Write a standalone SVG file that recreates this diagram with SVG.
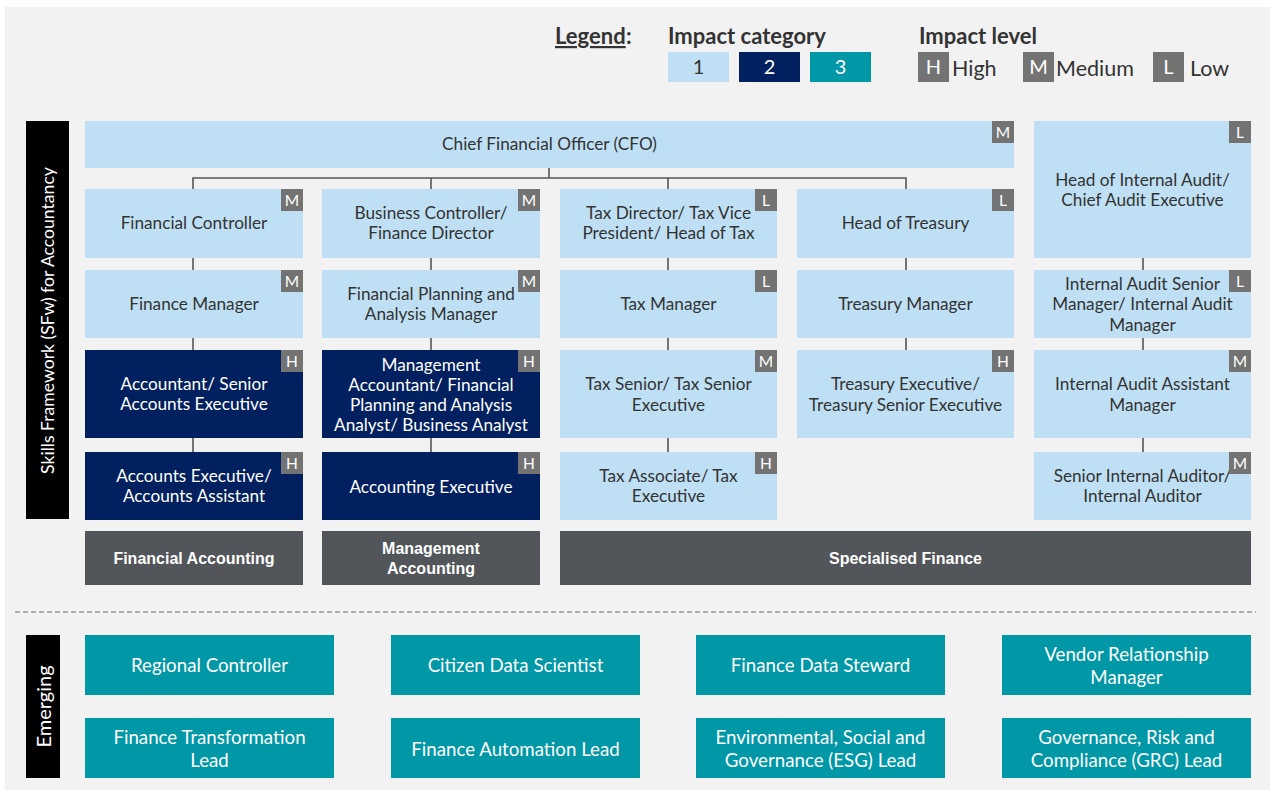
<svg xmlns="http://www.w3.org/2000/svg" width="1274" height="793" viewBox="0 0 1274 793">
<style>
.l1{fill:#bfe0f4}
.l2{fill:#002060}
.l3{fill:#0097a7}
.cat{fill:#525559}
.badge{fill:#737373}
.bt{font-family:Lato,"Open Sans",sans-serif;font-size:15.5px;fill:#fff;text-anchor:middle}
.t{font-family:Lato,"Open Sans",sans-serif;font-size:17.2px;fill:#333;text-anchor:middle}
.tw{font-family:Lato,"Open Sans",sans-serif;font-size:17.2px;fill:#fff;text-anchor:middle}
.te{font-family:Lato,"Open Sans",sans-serif;font-size:18.7px;fill:#fff;text-anchor:middle}
.ct{font-family:"Liberation Sans",Arial,sans-serif;font-size:16px;font-weight:bold;fill:#fff;text-anchor:middle}
.side{font-family:Lato,"Open Sans",sans-serif;font-size:17.6px;fill:#fff;text-anchor:middle}
.lh{font-family:Lato,"Open Sans",sans-serif;font-size:22px;font-weight:bold;fill:#333}
.lt{font-family:Lato,"Open Sans",sans-serif;font-size:21.5px;fill:#333}
.ln{font-family:Lato,"Open Sans",sans-serif;font-size:20px;text-anchor:middle}
.conn{stroke:#555;stroke-width:1.6;fill:none}
</style>
<rect x="0" y="0" width="1274" height="793" fill="#fff"/>
<rect x="5" y="7" width="1265" height="783" fill="#f2f2f2"/>

<g id="legend">
<text class="lh" x="555" y="44" text-decoration="underline">Legend</text><text class="lh" x="626" y="44">:</text>
<text class="lh" x="668" y="44">Impact category</text>
<rect class="l1" x="668" y="52" width="61" height="30"/><text class="ln" x="698.5" y="74" fill="#333">1</text>
<rect class="l2" x="739" y="52" width="61" height="30"/><text class="ln" x="769.5" y="74" fill="#fff">2</text>
<rect class="l3" x="810" y="52" width="61" height="30"/><text class="ln" x="840.5" y="74" fill="#fff">3</text>
<text class="lh" x="919" y="44">Impact level</text>
<rect class="badge" x="918" y="52" width="31" height="30"/><text class="ln" x="933.5" y="74" fill="#fff">H</text>
<text class="lt" x="952" y="76">High</text>
<rect class="badge" x="1023" y="52" width="31" height="30"/><text class="ln" x="1038.5" y="74" fill="#fff">M</text>
<text class="lt" x="1056" y="76">Medium</text>
<rect class="badge" x="1153" y="52" width="31" height="30"/><text class="ln" x="1168.5" y="74" fill="#fff">L</text>
<text class="lt" x="1190" y="76">Low</text>
</g>

<g id="sidebar-sfw">
<rect x="26" y="121" width="43" height="398" fill="#000"/>
<text class="side" transform="translate(54,320.5) rotate(-90)">Skills Framework (SFw) for Accountancy</text>
</g>

<g id="connectors">
<path class="conn" d="M549 168V178M193 189V178H906V189M431 178V189M668 178V189"/>
<path class="conn" d="M193 258V270M193 338V350M193 438V452"/>
<path class="conn" d="M431 258V270M431 338V350M431 438V452"/>
<path class="conn" d="M668 258V270M668 338V350M668 438V452"/>
<path class="conn" d="M906 258V270M906 338V350"/>
<path class="conn" d="M1143 258V270M1143 338V350M1143 438V452"/>
</g>

<g id="cfo">
<rect class="l1" x="85" y="121" width="929" height="47"/>
<text class="t" x="549.5" y="150">Chief Financial Officer (CFO)</text>
<rect class="badge" x="992" y="121" width="22" height="22"/><text class="bt" x="1003" y="138">M</text>
</g>

<g id="financial-controller">
<rect class="l1" x="85" y="189" width="218" height="69"/>
<text class="t" x="194" y="229">Financial Controller</text>
<rect class="badge" x="281" y="189" width="22" height="22"/><text class="bt" x="292" y="206">M</text>
</g>
<g id="business-controller">
<rect class="l1" x="322" y="189" width="218" height="69"/>
<text class="t" x="431" y="219">Business Controller/</text>
<text class="t" x="431" y="239">Finance Director</text>
<rect class="badge" x="518" y="189" width="22" height="22"/><text class="bt" x="529" y="206">M</text>
</g>
<g id="tax-director">
<rect class="l1" x="560" y="189" width="217" height="69"/>
<text class="t" x="668.5" y="219">Tax Director/ Tax Vice</text>
<text class="t" x="668.5" y="239">President/ Head of Tax</text>
<rect class="badge" x="755" y="189" width="22" height="22"/><text class="bt" x="766" y="206">L</text>
</g>
<g id="head-of-treasury">
<rect class="l1" x="797" y="189" width="217" height="69"/>
<text class="t" x="905.5" y="229">Head of Treasury</text>
<rect class="badge" x="992" y="189" width="22" height="22"/><text class="bt" x="1003" y="206">L</text>
</g>
<g id="head-of-internal-audit">
<rect class="l1" x="1034" y="121" width="217" height="137"/>
<text class="t" x="1142.5" y="186">Head of Internal Audit/</text>
<text class="t" x="1142.5" y="206">Chief Audit Executive</text>
<rect class="badge" x="1229" y="121" width="22" height="22"/><text class="bt" x="1240" y="138">L</text>
</g>

<g id="finance-manager">
<rect class="l1" x="85" y="270" width="218" height="68"/>
<text class="t" x="194" y="310">Finance Manager</text>
<rect class="badge" x="281" y="270" width="22" height="22"/><text class="bt" x="292" y="287">M</text>
</g>
<g id="fpa-manager">
<rect class="l1" x="322" y="270" width="218" height="68"/>
<text class="t" x="431" y="300">Financial Planning and</text>
<text class="t" x="431" y="320">Analysis Manager</text>
<rect class="badge" x="518" y="270" width="22" height="22"/><text class="bt" x="529" y="287">M</text>
</g>
<g id="tax-manager">
<rect class="l1" x="560" y="270" width="217" height="68"/>
<text class="t" x="668.5" y="310">Tax Manager</text>
<rect class="badge" x="755" y="270" width="22" height="22"/><text class="bt" x="766" y="287">L</text>
</g>
<g id="treasury-manager">
<rect class="l1" x="797" y="270" width="217" height="68"/>
<text class="t" x="905.5" y="310">Treasury Manager</text>
</g>
<g id="ia-senior-manager">
<rect class="l1" x="1034" y="270" width="217" height="68"/>
<text class="t" x="1142.5" y="290">Internal Audit Senior</text>
<text class="t" x="1142.5" y="310">Manager/ Internal Audit</text>
<text class="t" x="1142.5" y="331">Manager</text>
<rect class="badge" x="1229" y="270" width="22" height="22"/><text class="bt" x="1240" y="287">L</text>
</g>

<g id="accountant">
<rect class="l2" x="85" y="350" width="218" height="88"/>
<text class="tw" x="194" y="390">Accountant/ Senior</text>
<text class="tw" x="194" y="410">Accounts Executive</text>
<rect class="badge" x="281" y="350" width="22" height="22"/><text class="bt" x="292" y="367">H</text>
</g>
<g id="management-accountant">
<rect class="l2" x="322" y="350" width="218" height="88"/>
<text class="tw" x="431" y="371">Management</text>
<text class="tw" x="431" y="391">Accountant/ Financial</text>
<text class="tw" x="431" y="411">Planning and Analysis</text>
<text class="tw" x="431" y="431">Analyst/ Business Analyst</text>
<rect class="badge" x="518" y="350" width="22" height="22"/><text class="bt" x="529" y="367">H</text>
</g>
<g id="tax-senior">
<rect class="l1" x="560" y="350" width="217" height="88"/>
<text class="t" x="668.5" y="390">Tax Senior/ Tax Senior</text>
<text class="t" x="668.5" y="411">Executive</text>
<rect class="badge" x="755" y="350" width="22" height="22"/><text class="bt" x="766" y="367">M</text>
</g>
<g id="treasury-executive">
<rect class="l1" x="797" y="350" width="217" height="88"/>
<text class="t" x="905.5" y="390">Treasury Executive/</text>
<text class="t" x="905.5" y="411">Treasury Senior Executive</text>
<rect class="badge" x="992" y="350" width="22" height="22"/><text class="bt" x="1003" y="367">H</text>
</g>
<g id="ia-assistant-manager">
<rect class="l1" x="1034" y="350" width="217" height="88"/>
<text class="t" x="1142.5" y="390">Internal Audit Assistant</text>
<text class="t" x="1142.5" y="411">Manager</text>
<rect class="badge" x="1229" y="350" width="22" height="22"/><text class="bt" x="1240" y="367">M</text>
</g>

<g id="accounts-executive">
<rect class="l2" x="85" y="452" width="218" height="68"/>
<text class="tw" x="194" y="482">Accounts Executive/</text>
<text class="tw" x="194" y="502">Accounts Assistant</text>
<rect class="badge" x="281" y="452" width="22" height="22"/><text class="bt" x="292" y="469">H</text>
</g>
<g id="accounting-executive">
<rect class="l2" x="322" y="452" width="218" height="68"/>
<text class="tw" x="431" y="493">Accounting Executive</text>
<rect class="badge" x="518" y="452" width="22" height="22"/><text class="bt" x="529" y="469">H</text>
</g>
<g id="tax-associate">
<rect class="l1" x="560" y="452" width="217" height="68"/>
<text class="t" x="668.5" y="482">Tax Associate/ Tax</text>
<text class="t" x="668.5" y="502">Executive</text>
<rect class="badge" x="755" y="452" width="22" height="22"/><text class="bt" x="766" y="469">H</text>
</g>
<g id="senior-internal-auditor">
<rect class="l1" x="1034" y="452" width="217" height="68"/>
<text class="t" x="1142.5" y="482">Senior Internal Auditor/</text>
<text class="t" x="1142.5" y="502">Internal Auditor</text>
<rect class="badge" x="1229" y="452" width="22" height="22"/><text class="bt" x="1240" y="469">M</text>
</g>

<g id="cat-financial-accounting">
<rect class="cat" x="85" y="531" width="218" height="54"/>
<text class="ct" x="194" y="564">Financial Accounting</text>
</g>
<g id="cat-management-accounting">
<rect class="cat" x="322" y="531" width="218" height="54"/>
<text class="ct" x="431" y="554">Management</text>
<text class="ct" x="431" y="574">Accounting</text>
</g>
<g id="cat-specialised-finance">
<rect class="cat" x="560" y="531" width="691" height="54"/>
<text class="ct" x="905.5" y="564">Specialised Finance</text>
</g>

<line x1="15" y1="612" x2="1256" y2="612" stroke="#999" stroke-width="1.3" stroke-dasharray="5,3"/>

<g id="sidebar-emerging">
<rect x="26" y="635" width="34" height="143" fill="#000"/>
<text class="side" style="font-size:20px" transform="translate(51,706.5) rotate(-90)">Emerging</text>
</g>

<g id="regional-controller"><rect class="l3" x="85" y="635" width="249" height="60"/><text class="te" x="209.5" y="672">Regional Controller</text></g>
<g id="citizen-data-scientist"><rect class="l3" x="391" y="635" width="249" height="60"/><text class="te" x="515.5" y="672">Citizen Data Scientist</text></g>
<g id="finance-data-steward"><rect class="l3" x="696" y="635" width="249" height="60"/><text class="te" x="820.5" y="672">Finance Data Steward</text></g>
<g id="vendor-relationship-manager"><rect class="l3" x="1002" y="635" width="249" height="60"/><text class="te" x="1126.5" y="661">Vendor Relationship</text><text class="te" x="1126.5" y="684">Manager</text></g>
<g id="finance-transformation-lead"><rect class="l3" x="85" y="718" width="249" height="60"/><text class="te" x="209.5" y="744">Finance Transformation</text><text class="te" x="209.5" y="767">Lead</text></g>
<g id="finance-automation-lead"><rect class="l3" x="391" y="718" width="249" height="60"/><text class="te" x="515.5" y="756">Finance Automation Lead</text></g>
<g id="esg-lead"><rect class="l3" x="696" y="718" width="249" height="60"/><text class="te" x="820.5" y="744">Environmental, Social and</text><text class="te" x="820.5" y="767">Governance (ESG) Lead</text></g>
<g id="grc-lead"><rect class="l3" x="1002" y="718" width="249" height="60"/><text class="te" x="1126.5" y="744">Governance, Risk and</text><text class="te" x="1126.5" y="767">Compliance (GRC) Lead</text></g>
</svg>
